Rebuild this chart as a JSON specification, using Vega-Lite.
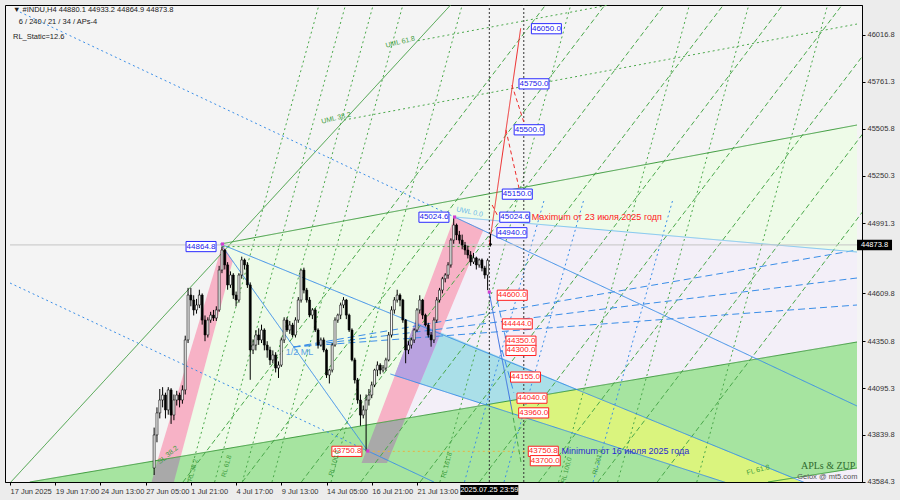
{
"$schema":"https://vega.github.io/schema/vega-lite/v6.json",
"width":857,"height":477,
"background":"#ececec",
"padding":{"left":5,"top":5,"right":5,"bottom":5},
"config":{"view":{"stroke":"#000","fill":"#f4f4f4"},"font":"Liberation Sans"},
"resolve":{"scale":{"color":"independent","fill":"independent","stroke":"independent","strokeDash":"independent","strokeWidth":"independent"}},
"datasets":{
"candles":[
{"i":51,"o":43660,"h":43880,"l":43622,"c":43840},{"i":52,"o":43840,"h":43990,"l":43800,"c":43960},{"i":53,"o":43960,"h":44090,"l":43930,"c":44030},{"i":54,"o":44030,"h":44100,"l":43990,"c":44057},{"i":55,"o":44057,"h":44070,"l":43930,"c":43976},{"i":56,"o":43976,"h":44100,"l":43950,"c":44085},{"i":57,"o":44085,"h":44095,"l":43900,"c":43948},{"i":58,"o":43948,"h":44060,"l":43920,"c":44030},{"i":59,"o":44030,"h":44080,"l":44000,"c":44057},{"i":60,"o":44057,"h":44070,"l":43990,"c":44030},
{"i":61,"o":44030,"h":44110,"l":44010,"c":44085},{"i":62,"o":44085,"h":44380,"l":44060,"c":44357},{"i":63,"o":44357,"h":44640,"l":44340,"c":44601},{"i":64,"o":44601,"h":44640,"l":44540,"c":44574},{"i":65,"o":44574,"h":44600,"l":44490,"c":44520},{"i":66,"o":44520,"h":44580,"l":44500,"c":44547},{"i":67,"o":44547,"h":44630,"l":44530,"c":44601},{"i":68,"o":44601,"h":44610,"l":44440,"c":44465},{"i":69,"o":44465,"h":44490,"l":44350,"c":44384},{"i":70,"o":44384,"h":44480,"l":44370,"c":44465},
{"i":71,"o":44465,"h":44510,"l":44450,"c":44492},{"i":72,"o":44492,"h":44520,"l":44460,"c":44476},{"i":73,"o":44476,"h":44540,"l":44460,"c":44520},{"i":74,"o":44520,"h":44760,"l":44510,"c":44737},{"i":75,"o":44737,"h":44865,"l":44720,"c":44846},{"i":76,"o":44846,"h":44850,"l":44740,"c":44765},{"i":77,"o":44765,"h":44780,"l":44630,"c":44656},{"i":78,"o":44656,"h":44730,"l":44640,"c":44710},{"i":79,"o":44710,"h":44720,"l":44580,"c":44601},{"i":80,"o":44601,"h":44620,"l":44540,"c":44574},
{"i":81,"o":44574,"h":44720,"l":44560,"c":44710},{"i":82,"o":44710,"h":44810,"l":44690,"c":44792},{"i":83,"o":44792,"h":44800,"l":44740,"c":44765},{"i":84,"o":44765,"h":44780,"l":44640,"c":44656},{"i":85,"o":44656,"h":44670,"l":44140,"c":44302},{"i":86,"o":44302,"h":44360,"l":44280,"c":44329},{"i":87,"o":44329,"h":44410,"l":44300,"c":44384},{"i":88,"o":44384,"h":44420,"l":44330,"c":44357},{"i":89,"o":44357,"h":44440,"l":44340,"c":44411},{"i":90,"o":44411,"h":44420,"l":44300,"c":44329},
{"i":91,"o":44329,"h":44350,"l":44260,"c":44302},{"i":92,"o":44302,"h":44320,"l":44220,"c":44248},{"i":93,"o":44248,"h":44300,"l":44230,"c":44275},{"i":94,"o":44275,"h":44290,"l":44180,"c":44204},{"i":95,"o":44204,"h":44240,"l":44150,"c":44220},{"i":96,"o":44220,"h":44370,"l":44210,"c":44357},{"i":97,"o":44357,"h":44480,"l":44340,"c":44465},{"i":98,"o":44465,"h":44480,"l":44400,"c":44411},{"i":99,"o":44411,"h":44460,"l":44390,"c":44438},{"i":100,"o":44438,"h":44450,"l":44370,"c":44384},
{"i":101,"o":44384,"h":44480,"l":44370,"c":44465},{"i":102,"o":44465,"h":44590,"l":44450,"c":44574},{"i":103,"o":44574,"h":44740,"l":44560,"c":44737},{"i":104,"o":44737,"h":44750,"l":44610,"c":44628},{"i":105,"o":44628,"h":44640,"l":44560,"c":44574},{"i":106,"o":44574,"h":44590,"l":44480,"c":44492},{"i":107,"o":44492,"h":44530,"l":44470,"c":44520},{"i":108,"o":44520,"h":44530,"l":44400,"c":44411},{"i":109,"o":44411,"h":44420,"l":44310,"c":44329},{"i":110,"o":44329,"h":44370,"l":44320,"c":44357},
{"i":111,"o":44357,"h":44370,"l":44290,"c":44302},{"i":112,"o":44302,"h":44310,"l":44150,"c":44166},{"i":113,"o":44166,"h":44200,"l":44120,"c":44193},{"i":114,"o":44193,"h":44340,"l":44180,"c":44329},{"i":115,"o":44329,"h":44480,"l":44320,"c":44465},{"i":116,"o":44465,"h":44500,"l":44450,"c":44492},{"i":117,"o":44492,"h":44560,"l":44470,"c":44547},{"i":118,"o":44547,"h":44590,"l":44530,"c":44574},{"i":119,"o":44574,"h":44580,"l":44470,"c":44492},{"i":120,"o":44492,"h":44500,"l":44400,"c":44411},
{"i":121,"o":44411,"h":44420,"l":44240,"c":44248},{"i":122,"o":44248,"h":44260,"l":44120,"c":44139},{"i":123,"o":44139,"h":44150,"l":44010,"c":44030},{"i":124,"o":44030,"h":44060,"l":43890,"c":43948},{"i":125,"o":43948,"h":44000,"l":43930,"c":43976},{"i":126,"o":43976,"h":44060,"l":43751,"c":44030},{"i":127,"o":44030,"h":44090,"l":44000,"c":44057},{"i":128,"o":44057,"h":44130,"l":44040,"c":44112},{"i":129,"o":44112,"h":44200,"l":44100,"c":44193},{"i":130,"o":44193,"h":44240,"l":44160,"c":44220},
{"i":131,"o":44220,"h":44230,"l":44170,"c":44193},{"i":132,"o":44193,"h":44220,"l":44180,"c":44204},{"i":133,"o":44204,"h":44260,"l":44190,"c":44248},{"i":134,"o":44248,"h":44400,"l":44240,"c":44384},{"i":135,"o":44384,"h":44540,"l":44370,"c":44520},{"i":136,"o":44520,"h":44590,"l":44500,"c":44574},{"i":137,"o":44574,"h":44630,"l":44560,"c":44601},{"i":138,"o":44601,"h":44610,"l":44540,"c":44574},{"i":139,"o":44574,"h":44580,"l":44450,"c":44465},{"i":140,"o":44465,"h":44470,"l":44230,"c":44302},
{"i":141,"o":44302,"h":44350,"l":44280,"c":44329},{"i":142,"o":44329,"h":44370,"l":44310,"c":44357},{"i":143,"o":44357,"h":44420,"l":44340,"c":44411},{"i":144,"o":44411,"h":44530,"l":44400,"c":44520},{"i":145,"o":44520,"h":44600,"l":44500,"c":44574},{"i":146,"o":44574,"h":44580,"l":44470,"c":44492},{"i":147,"o":44492,"h":44500,"l":44430,"c":44438},{"i":148,"o":44438,"h":44450,"l":44370,"c":44384},{"i":149,"o":44384,"h":44400,"l":44320,"c":44357},{"i":150,"o":44357,"h":44480,"l":44340,"c":44465},
{"i":151,"o":44465,"h":44590,"l":44450,"c":44574},{"i":152,"o":44574,"h":44640,"l":44560,"c":44628},{"i":153,"o":44628,"h":44700,"l":44610,"c":44690},{"i":154,"o":44690,"h":44720,"l":44670,"c":44710},{"i":155,"o":44710,"h":44780,"l":44690,"c":44765},{"i":156,"o":44765,"h":44910,"l":44750,"c":44900},{"i":157,"o":44900,"h":45025,"l":44880,"c":44982},{"i":158,"o":44982,"h":44990,"l":44900,"c":44928},{"i":159,"o":44928,"h":44950,"l":44880,"c":44900},{"i":160,"o":44900,"h":44930,"l":44850,"c":44873},
{"i":161,"o":44873,"h":44890,"l":44820,"c":44846},{"i":162,"o":44846,"h":44870,"l":44800,"c":44819},{"i":163,"o":44819,"h":44840,"l":44760,"c":44781},{"i":164,"o":44781,"h":44830,"l":44770,"c":44803},{"i":165,"o":44803,"h":44810,"l":44740,"c":44765},{"i":166,"o":44765,"h":44800,"l":44750,"c":44792},{"i":167,"o":44792,"h":44800,"l":44730,"c":44748},{"i":168,"o":44748,"h":44760,"l":44690,"c":44710},{"i":169,"o":44710,"h":44800,"l":44628,"c":44790},{"i":170,"o":44880.1,"h":44933.2,"l":44864.9,"c":44873.8}
],
"fills":[
{"z":1,"p":"lg","r":"lightgreen","x":60.4,"top":43722.2,"bot":43722.2},{"z":1,"p":"lg","r":"lightgreen","x":75.2,"top":44878.7,"bot":43760.3},{"z":1,"p":"lg","r":"lightgreen","x":299.7,"top":45526.1,"bot":44345.6},
{"z":1,"p":"gb","r":"greenbot","x":7.0,"top":43584,"bot":43584},{"z":1,"p":"gb","r":"greenbot","x":299.7,"top":44345.6,"bot":43584},
{"z":2,"p":"lv","r":"lavender","x":139.9,"top":43929,"bot":43929},{"z":2,"p":"lv","r":"lavender","x":157.3,"top":45025.6,"bot":43974.1},{"z":2,"p":"lv","r":"lavender","x":299.7,"top":44835.2,"bot":44345.6},
{"z":2,"p":"lc","r":"lavender","x":268.2,"top":43584,"bot":43584},{"z":2,"p":"lc","r":"lavender","x":299.7,"top":43660.2,"bot":43584},
{"z":3,"p":"cy","r":"cyan","x":136.1,"top":44162.9,"bot":44162.9},{"z":3,"p":"cy","r":"cyan","x":143.4,"top":44456.1,"bot":44127},{"z":3,"p":"cy","r":"cyan","x":168.5,"top":44295.6,"bot":44003},{"z":3,"p":"cy","r":"cyan","x":201.0,"top":44087.3,"bot":44087.3},
{"z":3,"p":"ye","r":"yellow","x":168.5,"top":44003,"bot":44003},{"z":3,"p":"ye","r":"yellow","x":201.0,"top":44087.3,"bot":43839.7},{"z":3,"p":"ye","r":"yellow","x":252.4,"top":43759.7,"bot":43584},{"z":3,"p":"ye","r":"yellow","x":280.1,"top":43584,"bot":43584},
{"z":3,"p":"g1","r":"gray","x":50.1,"top":43584,"bot":43584},{"z":3,"p":"g1","r":"gray","x":52.2,"top":43701,"bot":43584},{"z":3,"p":"g1","r":"gray","x":58.0,"top":43716.3,"bot":43584},{"z":3,"p":"g1","r":"gray","x":60.4,"top":43722.2,"bot":43722.2},
{"z":3,"p":"g2","r":"gray","x":124.4,"top":43687.4,"bot":43687.4},{"z":3,"p":"g2","r":"gray","x":129.7,"top":43902.3,"bot":43687.4},{"z":3,"p":"g2","r":"gray","x":133.4,"top":43911.5,"bot":43687.4},{"z":3,"p":"g2","r":"gray","x":139.9,"top":43929,"bot":43929},
{"z":4,"p":"p1","r":"pink","x":52.2,"top":43701,"bot":43701},{"z":4,"p":"p1","r":"pink","x":60.4,"top":44121,"bot":43722.2},{"z":4,"p":"p1","r":"pink","x":75.2,"top":44878.7,"bot":44575.2},{"z":4,"p":"p1","r":"pink","x":78.8,"top":44785.2,"bot":44785.2},
{"z":4,"p":"p2","r":"pink","x":129.7,"top":43902.3,"bot":43902.3},{"z":4,"p":"p2","r":"pink","x":139.9,"top":44314.6,"bot":43929},{"z":4,"p":"p2","r":"pink","x":157.3,"top":45025.6,"bot":44578.5},{"z":4,"p":"p2","r":"pink","x":167.5,"top":44954.9,"bot":44954.9},
{"z":5,"p":"pu","r":"purple","x":136.1,"top":44162.9,"bot":44162.9},{"z":5,"p":"pu","r":"purple","x":143.4,"top":44456.1,"bot":44127},{"z":5,"p":"pu","r":"purple","x":145.0,"top":44445.7,"bot":44118.8},{"z":5,"p":"pu","r":"purple","x":152.5,"top":44397.8,"bot":44397.8}
],
"segs":[
{"k":"gd","x1":61.2,"y1":43584,"x2":189.5,"y2":46178.9},{"k":"gd","x1":82.2,"y1":43584,"x2":210.5,"y2":46178.9},{"k":"gd","x1":103.1,"y1":43584,"x2":231.5,"y2":46178.9},{"k":"gd","x1":124.1,"y1":43584,"x2":252.4,"y2":46178.9},{"k":"gd","x1":145.1,"y1":43584,"x2":273.4,"y2":46178.9},{"k":"gd","x1":166.1,"y1":43584,"x2":294.4,"y2":46178.9},{"k":"gd","x1":187.1,"y1":43584,"x2":315.4,"y2":46178.9},{"k":"gd","x1":208.0,"y1":43584,"x2":336.4,"y2":46178.9},{"k":"gd","x1":229.0,"y1":43584,"x2":357.3,"y2":46178.9},
{"k":"gdot","x1":62.9,"y1":43584,"x2":109.3,"y2":46178.9},{"k":"gdot","x1":72.4,"y1":43584,"x2":118.7,"y2":46178.9},{"k":"gdot","x1":82.2,"y1":43584,"x2":128.5,"y2":46178.9},{"k":"gdot","x1":92.7,"y1":43584,"x2":139.0,"y2":46178.9},{"k":"gdot","x1":113.6,"y1":43584,"x2":160.0,"y2":46178.9},{"k":"gdot","x1":152.1,"y1":43584,"x2":198.4,"y2":46178.9},{"k":"gdot","x1":194.1,"y1":43584,"x2":240.4,"y2":46178.9},{"k":"gdot","x1":215.0,"y1":43584,"x2":261.4,"y2":46178.9},{"k":"gdot","x1":243.0,"y1":43584,"x2":289.3,"y2":46178.9},
{"k":"bdot","x1":160.8,"y1":43584,"x2":189.0,"y2":45118},{"k":"bdot","x1":174.8,"y1":43584,"x2":203.0,"y2":45118},{"k":"bdot","x1":206.3,"y1":43584,"x2":234.5,"y2":45118},
{"k":"gs","x1":74.5,"y1":44878.7,"x2":299.7,"y2":45526.1},
{"k":"gs","x1":0,"y1":43578.5,"x2":155.9,"y2":46178.9},
{"k":"gs","x1":7.0,"y1":43584,"x2":299.7,"y2":44345.6},
{"k":"gs","x1":268.2,"y1":43584,"x2":299.7,"y2":43660.2},
{"k":"gdot","x1":118.2,"y1":45553.3,"x2":299.7,"y2":46075.5},
{"k":"gdot","x1":144.3,"y1":45984.7,"x2":211.9,"y2":46178.9},
{"k":"bdot","x1":3.5,"y1":46140.8,"x2":157.3,"y2":45025.6},
{"k":"bs","x1":157.3,"y1":45025.6,"x2":299.7,"y2":43997.5},
{"k":"bs","x1":74.5,"y1":44878.7,"x2":299.7,"y2":43464.3},
{"k":"bs","x1":134.6,"y1":44171.5,"x2":299.7,"y2":43350.1},
{"k":"bs","x1":74.5,"y1":44878.7,"x2":126.6,"y2":43752.7},
{"k":"bdot","x1":0,"y1":44666.6,"x2":126.6,"y2":43752.7},
{"k":"bs","x1":126.6,"y1":43752.7,"x2":150.0,"y2":43584},
{"k":"bd","x1":100.3,"y1":44318.4,"x2":299.7,"y2":44846.1},
{"k":"bd","x1":100.3,"y1":44318.4,"x2":299.7,"y2":44693.8},
{"k":"bd","x1":100.3,"y1":44318.4,"x2":299.7,"y2":44546.9},
{"k":"bl","x1":157.3,"y1":45025.6,"x2":299.7,"y2":44835.2},
{"k":"gray","x1":0,"y1":44873.8,"x2":299.7,"y2":44873.8},
{"k":"gdot","x1":75.2,"y1":44864.8,"x2":169.6,"y2":44864.8},
{"k":"odot","x1":126.6,"y1":43750.8,"x2":186.0,"y2":43750.8},
{"k":"kdot","x1":169.6,"y1":43584,"x2":169.6,"y2":46179},
{"k":"kdot","x1":181.8,"y1":43584,"x2":181.8,"y2":46179},
{"k":"rs","x1":169.6,"y1":44873,"x2":180.7,"y2":46052},
{"k":"rd","x1":177.6,"y1":45743.7,"x2":181.8,"y2":45542.4},
{"k":"rd","x1":175.5,"y1":45499,"x2":180.1,"y2":45183.4},
{"k":"rd","x1":170.6,"y1":45090.9,"x2":172.4,"y2":45036.5},
{"k":"bw","x1":169.6,"y1":44612.2,"x2":177.6,"y2":43975.7},
{"k":"gd","x1":177.6,"y1":43975.7,"x2":180.8,"y2":43692.8},
{"k":"bd","x1":172.4,"y1":44574.1,"x2":175.9,"y2":44329.3},
{"k":"bd","x1":174.1,"y1":44302.1,"x2":178.3,"y2":44068.2}
],
"boxes":[
{"t":"44864.8","x":67.6,"y":44864.8,"k":"blue"},
{"t":"45024.6","x":150.0,"y":45024.6,"k":"blue"},
{"t":"46050.0","x":189.8,"y":46050,"k":"blue"},
{"t":"45750.0","x":185.4,"y":45750,"k":"blue"},
{"t":"45500.0","x":183.7,"y":45500,"k":"blue"},
{"t":"45150.0","x":179.5,"y":45150,"k":"blue"},
{"t":"45024.6","x":178.6,"y":45024.6,"k":"blue"},
{"t":"44940.0","x":177.6,"y":44940,"k":"blue"},
{"t":"44600.0","x":177.7,"y":44600,"k":"red"},
{"t":"44444.0","x":179.5,"y":44444,"k":"red"},
{"t":"44350.0","x":180.8,"y":44350,"k":"red"},
{"t":"44300.0","x":180.8,"y":44300,"k":"red"},
{"t":"44155.0","x":182.4,"y":44155,"k":"red"},
{"t":"44040.0","x":184.7,"y":44040,"k":"red"},
{"t":"43960.0","x":185.3,"y":43960,"k":"red"},
{"t":"43750.8","x":188.7,"y":43750.8,"k":"red"},
{"t":"43750.8","x":119.2,"y":43750.8,"k":"red"},
{"t":"43700.0","x":189.4,"y":43700,"k":"red"}
]
},
"layer":[
{"data":{"name":"fills"},"transform":[{"filter":"datum.z==1"}],"mark":{"type":"area","clip":true},
 "encoding":{"x":{"field":"x","type":"quantitative","scale":{"domain":[0,299.7],"nice":false,"zero":false},
   "axis":{"values":[0,16,32,48,64,80,96,112,128,144],"labelExpr":"['17 Jun 2025','19 Jun 17:00','24 Jun 13:00','27 Jun 05:00','1 Jul 21:00','4 Jul 17:00','9 Jul 13:00','14 Jul 05:00','16 Jul 21:00','21 Jul 13:00'][round(datum.value/16)]","title":null,"grid":false,"labelAlign":"left","labelFontSize":7.5,"labelColor":"#333","tickSize":3,"tickColor":"#000","domainColor":"#000","labelPadding":2}},
  "y":{"field":"top","type":"quantitative","stack":null,"scale":{"domain":[43584,46179],"nice":false,"zero":false},
   "axis":{"orient":"right","values":[43584.3,43710.3,43839.8,43969.3,44095.3,44224.8,44350.8,44480.3,44609.8,44735.8,44991.3,45120.8,45250.3,45376.3,45505.8,45631.8,45761.3,45890.8,46016.8,46146.3],"format":".1f","title":null,"grid":false,"labelFontSize":7.5,"labelColor":"#333","tickSize":3,"tickColor":"#000","domainColor":"#000","labelPadding":2}},
  "y2":{"field":"bot"},"detail":{"field":"p"},
  "fill":{"field":"r","type":"nominal","legend":null,"scale":{"domain":["lightgreen","lavender","greenbot","cyan","yellow","gray","pink","purple"],"range":["#eefbe8","#f3eff8","#a6e4a0","#aadfe8","#daf47e","#a9a9a9","#f7b2c6","#b9a2e0"]}}}},
{"data":{"name":"fills"},"transform":[{"filter":"datum.z==2"}],"mark":{"type":"area","clip":true},
 "encoding":{"x":{"field":"x","type":"quantitative"},"y":{"field":"top","type":"quantitative","stack":null},"y2":{"field":"bot"},"detail":{"field":"p"},
  "fill":{"field":"r","type":"nominal","legend":null,"scale":{"domain":["lightgreen","lavender","greenbot","cyan","yellow","gray","pink","purple"],"range":["#eefbe8","#f3eff8","#a6e4a0","#aadfe8","#daf47e","#a9a9a9","#f7b2c6","#b9a2e0"]}}}},
{"data":{"name":"fills"},"transform":[{"filter":"datum.z==3"}],"mark":{"type":"area","clip":true},
 "encoding":{"x":{"field":"x","type":"quantitative"},"y":{"field":"top","type":"quantitative","stack":null},"y2":{"field":"bot"},"detail":{"field":"p"},
  "fill":{"field":"r","type":"nominal","legend":null,"scale":{"domain":["lightgreen","lavender","greenbot","cyan","yellow","gray","pink","purple"],"range":["#eefbe8","#f3eff8","#a6e4a0","#aadfe8","#daf47e","#a9a9a9","#f7b2c6","#b9a2e0"]}}}},
{"data":{"name":"fills"},"transform":[{"filter":"datum.z==4"}],"mark":{"type":"area","clip":true},
 "encoding":{"x":{"field":"x","type":"quantitative"},"y":{"field":"top","type":"quantitative","stack":null},"y2":{"field":"bot"},"detail":{"field":"p"},
  "fill":{"field":"r","type":"nominal","legend":null,"scale":{"domain":["lightgreen","lavender","greenbot","cyan","yellow","gray","pink","purple"],"range":["#eefbe8","#f3eff8","#a6e4a0","#aadfe8","#daf47e","#a9a9a9","#f7b2c6","#b9a2e0"]}}}},
{"data":{"name":"fills"},"transform":[{"filter":"datum.z==5"}],"mark":{"type":"area","clip":true},
 "encoding":{"x":{"field":"x","type":"quantitative"},"y":{"field":"top","type":"quantitative","stack":null},"y2":{"field":"bot"},"detail":{"field":"p"},
  "fill":{"field":"r","type":"nominal","legend":null,"scale":{"domain":["lightgreen","lavender","greenbot","cyan","yellow","gray","pink","purple"],"range":["#eefbe8","#f3eff8","#a6e4a0","#aadfe8","#daf47e","#a9a9a9","#f7b2c6","#b9a2e0"]}}}},
{"data":{"name":"segs"},"mark":{"type":"rule","clip":true},
 "encoding":{"x":{"field":"x1","type":"quantitative"},"y":{"field":"y1","type":"quantitative"},"x2":{"field":"x2"},"y2":{"field":"y2"},
  "stroke":{"field":"k","type":"nominal","legend":null,"scale":{"domain":["gs","gd","gdot","bs","bl","bd","bdot","bw","rs","rd","kdot","gray","odot"],"range":["#3c9c3c","#4aa84a","#4aa84a","#3a8ee8","#7cc4f0","#3a8ee8","#3a8ee8","#3a6fe0","#ee2a2a","#ee2a2a","#333333","#c4c4c4","#e8b040"]}},
  "strokeDash":{"field":"k","type":"nominal","legend":null,"scale":{"domain":["gs","gd","gdot","bs","bl","bd","bdot","bw","rs","rd","kdot","gray","odot"],"range":[[1,0],[5,3],[2,3],[1,0],[1,0],[7,4],[2,3],[1,0],[1,0],[4,3],[2,2],[1,0],[2,3]]}},
  "strokeWidth":{"field":"k","type":"nominal","legend":null,"scale":{"domain":["gs","gd","gdot","bs","bl","bd","bdot","bw","rs","rd","kdot","gray","odot"],"range":[1,1,1,1,1,1,1,2,1.6,1.6,1,1,1]}}}},
{"data":{"name":"candles"},"mark":{"type":"rule","color":"#000","strokeWidth":1},
 "encoding":{"x":{"field":"i","type":"quantitative"},"y":{"field":"l","type":"quantitative"},"y2":{"field":"h"}}},
{"data":{"name":"candles"},"mark":{"type":"bar","size":2,"stroke":"#000","strokeWidth":0.6},
 "encoding":{"x":{"field":"i","type":"quantitative"},"y":{"field":"o","type":"quantitative"},"y2":{"field":"c"},
  "fill":{"condition":{"test":"datum.c>=datum.o","value":"#ffffff"},"value":"#000000"}}},
{"data":{"values":[{"x":75.2,"y":44878.7},{"x":157.3,"y":45025.6},{"x":169.6,"y":44617.6},{"x":126.6,"y":43752.7}]},
 "mark":{"type":"square","size":10,"color":"#d040d0","opacity":1},
 "encoding":{"x":{"field":"x","type":"quantitative"},"y":{"field":"y","type":"quantitative"}}},
{"data":{"name":"boxes"},"transform":[{"filter":"datum.k=='blue'"}],"mark":{"type":"point","filled":false,"shape":"M-1,-0.34L1,-0.34L1,0.34L-1,0.34Z","size":900,"fill":"#ffffff","fillOpacity":1,"stroke":"#2a2aff","strokeWidth":1,"opacity":1},
 "encoding":{"x":{"field":"x","type":"quantitative"},"y":{"field":"y","type":"quantitative"}}},
{"data":{"name":"boxes"},"transform":[{"filter":"datum.k=='red'"}],"mark":{"type":"point","filled":false,"shape":"M-1,-0.34L1,-0.34L1,0.34L-1,0.34Z","size":900,"fill":"#ffffff","fillOpacity":1,"stroke":"#ff2020","strokeWidth":1,"opacity":1},
 "encoding":{"x":{"field":"x","type":"quantitative"},"y":{"field":"y","type":"quantitative"}}},
{"data":{"name":"boxes"},"transform":[{"filter":"datum.k=='blue'"}],"mark":{"type":"text","fontSize":8,"color":"#2020e8"},
 "encoding":{"x":{"field":"x","type":"quantitative"},"y":{"field":"y","type":"quantitative"},"text":{"field":"t"}}},
{"data":{"name":"boxes"},"transform":[{"filter":"datum.k=='red'"}],"mark":{"type":"text","fontSize":8,"color":"#ff1a1a"},
 "encoding":{"x":{"field":"x","type":"quantitative"},"y":{"field":"y","type":"quantitative"},"text":{"field":"t"}}},
{"data":{"values":[{"t":"Maximum от 23 июля 2025 годп","x":184.6,"y":45024.6}]},"mark":{"type":"text","align":"left","fontSize":9,"color":"#ff2020"},
 "encoding":{"x":{"field":"x","type":"quantitative"},"y":{"field":"y","type":"quantitative"},"text":{"field":"t"}}},
{"data":{"values":[{"t":"Minimum от 16 июля 2025 года","x":195.1,"y":43750.8}]},"mark":{"type":"text","align":"left","fontSize":9,"color":"#2a2ad0"},
 "encoding":{"x":{"field":"x","type":"quantitative"},"y":{"field":"y","type":"quantitative"},"text":{"field":"t"}}},
{"data":{"values":[{"t":"APLs & ZUP","x":289.5,"y":43671}]},"mark":{"type":"text","font":"Liberation Serif","fontSize":10,"color":"#2e6a2e"},
 "encoding":{"x":{"field":"x","type":"quantitative"},"y":{"field":"y","type":"quantitative"},"text":{"field":"t"}}},
{"data":{"values":[{"t":"Gelox @ mt5.com","x":289.2,"y":43611}]},"mark":{"type":"text","fontSize":7.5,"color":"#555555"},
 "encoding":{"x":{"field":"x","type":"quantitative"},"y":{"field":"y","type":"quantitative"},"text":{"field":"t"}}},
{"data":{"values":[{"t":"1/2 ML","x":102.4,"y":44291}]},"mark":{"type":"text","fontSize":9,"color":"#5a9fe6"},
 "encoding":{"x":{"field":"x","type":"quantitative"},"y":{"field":"y","type":"quantitative"},"text":{"field":"t"}}},
{"data":{"values":[{"t":"UWL 0.0","x":162.6,"y":45053}]},"mark":{"type":"text","fontSize":7,"color":"#6ab8e8","angle":12},
 "encoding":{"x":{"field":"x","type":"quantitative"},"y":{"field":"y","type":"quantitative"},"text":{"field":"t"}}},
{"data":{"values":[{"t":"UML 61.8","x":138.1,"y":45977},{"t":"UML 38.2","x":115.4,"y":45564}]},"mark":{"type":"text","fontSize":7,"color":"#3c9c3c","angle":-14},
 "encoding":{"x":{"field":"x","type":"quantitative"},"y":{"field":"y","type":"quantitative"},"text":{"field":"t"}}},
{"data":{"values":[{"t":"FL 61.8","x":264.7,"y":43649}]},"mark":{"type":"text","fontSize":7,"color":"#3c9c3c","angle":-15},
 "encoding":{"x":{"field":"x","type":"quantitative"},"y":{"field":"y","type":"quantitative"},"text":{"field":"t"}}},
{"data":{"values":[{"t":"SL 38.2","x":55.9,"y":43731}]},"mark":{"type":"text","fontSize":7,"color":"#3c9c3c","angle":-40},
 "encoding":{"x":{"field":"x","type":"quantitative"},"y":{"field":"y","type":"quantitative"},"text":{"field":"t"}}},
{"data":{"values":[{"t":"RL 38.2","x":64.7,"y":43649},{"t":"RL 61.8","x":76.6,"y":43671},{"t":"RL 100.0","x":114.7,"y":43687},{"t":"RL 161.8","x":154.5,"y":43676},{"t":"RL 100.0","x":196.9,"y":43649},{"t":"RL 261.8","x":208.0,"y":43693}]},
 "mark":{"type":"text","fontSize":6.5,"color":"#3c9c3c","angle":-75},
 "encoding":{"x":{"field":"x","type":"quantitative"},"y":{"field":"y","type":"quantitative"},"text":{"field":"t"}}},
{"data":{"values":[{"t":"▼ #INDU,H4  44880.1 44933.2 44864.9 44873.8","x":1.05,"y":46151.7},{"t":"6 / 240 / 21 / 34 / APs-4","x":3.1,"y":46086.4},{"t":"RL_Static=12.6","x":1.05,"y":46004.8}]},
 "mark":{"type":"text","align":"left","fontSize":7.5,"color":"#222"},
 "encoding":{"x":{"field":"x","type":"quantitative"},"y":{"field":"y","type":"quantitative"},"text":{"field":"t"}}},
{"data":{"values":[{"x":305.9,"y":44873.8}]},"mark":{"type":"point","filled":true,"shape":"M-1,-0.3L1,-0.3L1,0.3L-1,0.3Z","size":1225,"color":"#000","opacity":1,"clip":false},
 "encoding":{"x":{"field":"x","type":"quantitative"},"y":{"field":"y","type":"quantitative"}}},
{"data":{"values":[{"t":"44873.8","x":305.9,"y":44873.8}]},"mark":{"type":"text","fontSize":7.5,"color":"#ffffff","clip":false},
 "encoding":{"x":{"field":"x","type":"quantitative"},"y":{"field":"y","type":"quantitative"},"text":{"field":"t"}}},
{"data":{"values":[{"x":169.6,"y":43540.5}]},"mark":{"type":"point","filled":true,"shape":"M-1,-0.17L1,-0.17L1,0.17L-1,0.17Z","size":3364,"color":"#000","opacity":1,"clip":false},
 "encoding":{"x":{"field":"x","type":"quantitative"},"y":{"field":"y","type":"quantitative"}}},
{"data":{"values":[{"t":"2025.07.25 23:59","x":169.6,"y":43540.5}]},"mark":{"type":"text","fontSize":7.5,"color":"#ffffff","clip":false},
 "encoding":{"x":{"field":"x","type":"quantitative"},"y":{"field":"y","type":"quantitative"},"text":{"field":"t"}}}
]
}
